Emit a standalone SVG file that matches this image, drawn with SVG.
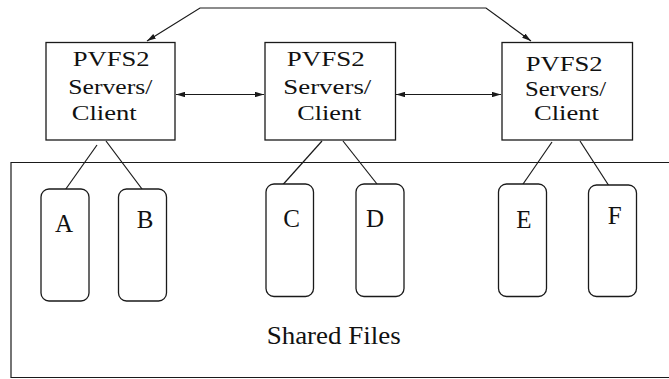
<svg xmlns="http://www.w3.org/2000/svg" width="669" height="379" viewBox="0 0 669 379">
<defs>
<style>
.box{fill:#fff;stroke:#1a1a1a;stroke-width:1.3}
.file{fill:#fff;stroke:#1a1a1a;stroke-width:1.3}
.line{fill:none;stroke:#1a1a1a;stroke-width:1.2}
.t{font-family:'Liberation Serif','DejaVu Serif',serif;font-size:22px;fill:#111}
.l{font-family:'Liberation Serif','DejaVu Serif',serif;font-size:25px;fill:#111;text-anchor:middle}
.s{font-family:'Liberation Serif','DejaVu Serif',serif;font-size:25px;fill:#111}
</style>
<marker id="ah" viewBox="0 0 10 6" refX="10" refY="3" markerWidth="9" markerHeight="5.5" markerUnits="userSpaceOnUse" orient="auto-start-reverse">
<path d="M0,0 L10,3 L0,6 Z" fill="#1a1a1a"/>
</marker>
</defs>
<rect width="669" height="379" fill="#fff"/>
<g id="shared-files">
<path class="line" d="M669,162.5 H11 V377.5 H669" stroke="#333"/>
<text class="s" x="266.7" y="344" textLength="134" lengthAdjust="spacingAndGlyphs">Shared Files</text>
</g>
<g id="connectors">
<polyline class="line" points="147,41 200,8 486,8 531,41" marker-start="url(#ah)" marker-end="url(#ah)"/>
<line class="line" x1="176" y1="94.5" x2="264" y2="94.5" marker-start="url(#ah)" marker-end="url(#ah)"/>
<line class="line" x1="396" y1="94.5" x2="501" y2="94.5" marker-start="url(#ah)" marker-end="url(#ah)"/>
<line class="line" x1="97" y1="145" x2="63" y2="193"/>
<line class="line" x1="106" y1="141" x2="145" y2="193"/>
<line class="line" x1="322" y1="141" x2="279" y2="189"/>
<line class="line" x1="343" y1="141" x2="377" y2="184"/>
<line class="line" x1="552" y1="142" x2="521" y2="187"/>
<line class="line" x1="580" y1="141" x2="611" y2="189"/>
</g>
<g id="server1">
<rect class="box" x="46" y="42.5" width="129" height="97.5"/>
<text class="t" x="72.7" y="65.5" textLength="77" lengthAdjust="spacingAndGlyphs">PVFS2</text>
<text class="t" x="68.3" y="94" textLength="84" lengthAdjust="spacingAndGlyphs">Servers/</text>
<text class="t" x="71.7" y="120" textLength="65" lengthAdjust="spacingAndGlyphs">Client</text>
</g>
<g id="server2">
<rect class="box" x="265" y="42.5" width="130.5" height="97.5"/>
<text class="t" x="286.7" y="65.5" textLength="78" lengthAdjust="spacingAndGlyphs">PVFS2</text>
<text class="t" x="283.3" y="94" textLength="88" lengthAdjust="spacingAndGlyphs">Servers/</text>
<text class="t" x="297.3" y="119.5" textLength="64" lengthAdjust="spacingAndGlyphs">Client</text>
</g>
<g id="server3">
<rect class="box" x="502" y="42.5" width="130.5" height="97.5"/>
<text class="t" x="525.7" y="71" textLength="77" lengthAdjust="spacingAndGlyphs">PVFS2</text>
<text class="t" x="525" y="95.5" textLength="81" lengthAdjust="spacingAndGlyphs">Servers/</text>
<text class="t" x="534" y="119.5" textLength="65" lengthAdjust="spacingAndGlyphs">Client</text>
</g>
<g id="file-a">
<rect class="file" x="41" y="189" width="48" height="112" rx="8"/>
<text class="l" x="64" y="231.7">A</text>
</g>
<g id="file-b">
<rect class="file" x="118.5" y="189" width="48" height="112" rx="8"/>
<text class="l" x="145" y="228.3">B</text>
</g>
<g id="file-c">
<rect class="file" x="266" y="184" width="47.5" height="112.5" rx="8"/>
<text class="l" x="291.7" y="227.3">C</text>
</g>
<g id="file-d">
<rect class="file" x="356" y="184" width="48" height="112.5" rx="8"/>
<text class="l" x="375" y="227.3">D</text>
</g>
<g id="file-e">
<rect class="file" x="498.5" y="184" width="48" height="112.5" rx="8"/>
<text class="l" x="524" y="228.3">E</text>
</g>
<g id="file-f">
<rect class="file" x="588.5" y="185" width="48" height="111.5" rx="8"/>
<text class="l" x="614.8" y="224">F</text>
</g>
</svg>
